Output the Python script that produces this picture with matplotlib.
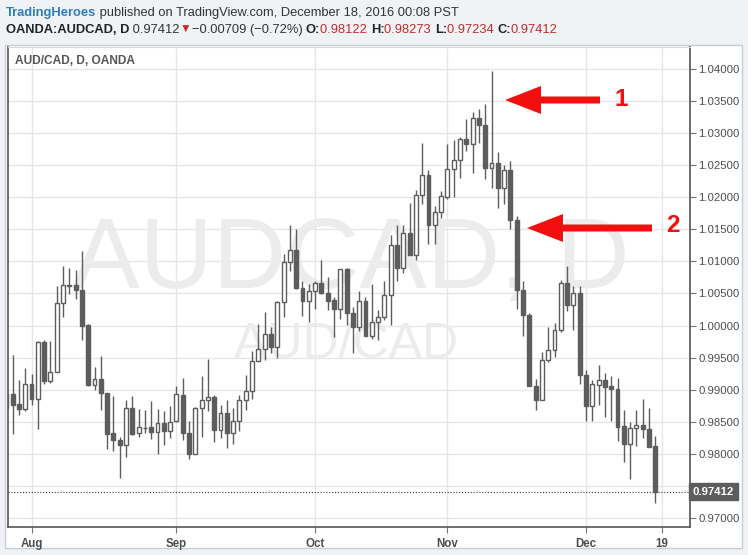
#%% AUD/CAD daily candles (TradingView style)
import pandas as pd
import matplotlib
matplotlib.use('Agg')
import matplotlib.pyplot as plt
from matplotlib.patches import Rectangle, FancyArrow

plt.rcParams['font.family'] = ['Liberation Sans', 'DejaVu Sans']

#%% data

dates = pd.bdate_range('2016-07-26', '2016-12-16')

opens = [0.98722, 0.98938, 0.98773, 0.98706, 0.99093, 0.98861, 0.99742, 0.99139, 0.99273, 1.00345,
         1.00639, 1.00629, 1.00562, 1.00010, 0.99077, 0.99170, 0.98953, 0.98319, 0.98221, 0.98134,
         0.98721, 0.98319, 0.98407, 0.98412, 0.98335, 0.98479, 0.98350, 0.98505, 0.98923, 0.98327,
         0.98000, 0.98716, 0.98840, 0.98881, 0.98373, 0.98638, 0.98327, 0.98513, 0.98840, 0.98975,
         0.99441, 0.99633, 0.99867, 0.99659, 1.00370, 1.00987, 1.01173, 1.00593, 1.00385, 1.00541,
         1.00662, 1.00502, 1.00395, 1.00254, 1.00879, 1.00197, 0.99975, 1.00383, 0.99836, 1.00053,
         1.00130, 1.00481, 1.01251, 1.00895, 1.01437, 1.01096, 1.02043, 1.02354, 1.01567, 1.01774,
         1.02007, 1.02447, 1.02587, 1.02913, 1.02830, 1.03234, 1.03130, 1.02458, 1.02535, 1.02147,
         1.02432, 1.01640, 1.00553, 1.00165, 0.99062, 0.98844, 0.99466, 0.99611, 0.99932, 1.00662,
         1.00320, 1.00506, 0.99225, 0.98749, 0.99080, 0.99158, 0.99054, 0.99003, 0.98433, 0.98148,
         0.98396, 0.98443, 0.98381, 0.98122]
highs = [0.98990, 0.99546, 0.99155, 0.99345, 0.99247, 0.99763, 0.99778, 0.99763, 1.00613, 1.00923,
         1.00897, 1.00871, 1.01155, 1.00021, 0.99356, 0.99526, 0.98953, 0.98907, 0.98258, 0.98835,
         0.98907, 0.98706, 0.98680, 0.98819, 0.98706, 0.98665, 0.98747, 0.99051, 0.99182, 0.98519,
         0.98736, 0.99218, 0.99483, 0.98918, 0.98767, 0.98840, 0.98716, 0.98918, 0.99234, 0.99597,
         1.00022, 1.00214, 0.99970, 1.00385, 1.01111, 1.01562, 1.01500, 1.00696, 1.00644, 1.00696,
         1.01019, 1.00750, 1.00447, 1.00879, 1.00905, 1.00285, 1.00543, 1.00450, 1.00647, 1.00244,
         1.00698, 1.01406, 1.01566, 1.01566, 1.01907, 1.02119, 1.02846, 1.02432, 1.01862, 1.02095,
         1.02830, 1.02897, 1.02934, 1.03224, 1.03337, 1.03379, 1.03451, 1.03969, 1.02701, 1.02510,
         1.02572, 1.01708, 1.00698, 1.00191, 0.99171, 0.99585, 0.99984, 1.00035, 1.00708, 1.00931,
         1.00620, 1.00620, 0.99313, 0.99158, 0.99381, 0.99262, 0.99210, 0.99189, 0.98681, 0.98500,
         0.98681, 0.98847, 0.98707, 0.98273]
lows = [0.98682, 0.98304, 0.98613, 0.98670, 0.98768, 0.98381, 0.99093, 0.99103, 0.99273, 1.00139,
        1.00485, 1.00417, 0.99778, 0.99057, 0.98990, 0.98685, 0.98072, 0.98041, 0.97618, 0.97948,
        0.98288, 0.98258, 0.98330, 0.98227, 0.97995, 0.98134, 0.98252, 0.98495, 0.98218, 0.97922,
        0.97990, 0.98270, 0.98674, 0.98181, 0.98249, 0.98093, 0.98156, 0.98363, 0.98684, 0.98856,
        0.99441, 0.99462, 0.99566, 0.99493, 1.00126, 1.00852, 1.00577, 1.00147, 1.00048, 1.00255,
        1.00492, 1.00244, 0.99815, 1.00104, 1.00001, 0.99572, 0.99913, 0.99836, 0.99795, 0.99779,
        1.00079, 1.00001, 1.00698, 1.00812, 1.01096, 1.01019, 1.01899, 1.01277, 1.01277, 1.01681,
        1.01966, 1.02002, 1.02302, 1.02727, 1.02380, 1.02846, 1.02282, 1.02147, 1.01836, 1.01889,
        1.01500, 1.00258, 0.99844, 0.99051, 0.98689, 0.98834, 0.99429, 0.99507, 0.99895, 1.00232,
        0.99937, 0.99093, 0.98516, 0.98516, 0.98759, 0.98578, 0.98516, 0.98205, 0.97878, 0.97604,
        0.98122, 0.98241, 0.98101, 0.97234]
closes = [0.98940, 0.98768, 0.98706, 0.99093, 0.98856, 0.99742, 0.99134, 0.99273, 1.00345, 1.00639,
          1.00624, 1.00557, 1.00000, 0.99067, 0.99170, 0.98948, 0.98314, 0.98221, 0.98134, 0.98721,
          0.98309, 0.98412, 0.98407, 0.98335, 0.98479, 0.98350, 0.98500, 0.98928, 0.98321, 0.98000,
          0.98716, 0.98840, 0.98881, 0.98373, 0.98638, 0.98321, 0.98513, 0.98840, 0.98975, 0.99441,
          0.99633, 0.99867, 0.99659, 1.00370, 1.00992, 1.01173, 1.00593, 1.00385, 1.00541, 1.00660,
          1.00502, 1.00388, 1.00254, 1.00879, 1.00192, 0.99975, 1.00383, 0.99836, 1.00053, 1.00141,
          1.00481, 1.01251, 1.00895, 1.01437, 1.01096, 1.02041, 1.02354, 1.01567, 1.01774, 1.02018,
          1.02447, 1.02587, 1.02913, 1.02830, 1.03234, 1.03130, 1.02458, 1.02535, 1.02147, 1.02432,
          1.01640, 1.00553, 1.00165, 0.99062, 0.98844, 0.99466, 0.99611, 0.99932, 1.00662, 1.00320,
          1.00506, 0.99222, 0.98749, 0.99086, 0.99158, 0.99044, 0.99003, 0.98422, 0.98148, 0.98396,
          0.98443, 0.98381, 0.98101, 0.97412]

last_price = 0.97412
price_ticks = [0.97 + 0.005 * i for i in range(15)]

#%% figure

W, H = 748, 555
fig = plt.figure(figsize=(W / 100, H / 100), dpi=100, facecolor='#f0f3f6')

# white chart panel
fig.patches.append(Rectangle((5 / W, (H - 548) / H), 737 / W, 503 / H, transform=fig.transFigure,
                             facecolor='white', edgecolor='#c9cdd2', lw=1, zorder=-5))

ax = fig.add_axes([8 / W, (H - 527) / H, 682 / W, 480 / H])
ax.set_zorder(2)
ax.set_facecolor('white')

x = list(range(len(dates)))
up_col, dn_col = 'white', '#5d5d5d'
edge = '#5d5d5d'

ax.vlines(x, lows, highs, color=edge, lw=1, zorder=3)
for i in x:
    o, c = opens[i], closes[i]
    ax.bar(i, abs(c - o), bottom=min(o, c), width=0.62,
           color=up_col if c >= o else dn_col, edgecolor=edge, lw=1, zorder=4)

# last price dotted line + box
ax.axhline(last_price, color='#333333', ls=(0, (1, 1.6)), lw=0.8, zorder=2)
ax.annotate('%.5f' % last_price, xy=(1.0, last_price), xycoords=('axes fraction', 'data'),
            xytext=(2, 0), textcoords='offset points', va='center', ha='left',
            fontsize=8.2, fontweight='bold', color='white', annotation_clip=False,
            bbox=dict(boxstyle='square,pad=0.3', fc='#5d5d5d', ec='#5d5d5d'), zorder=10)

# month ticks
first_of_month = [i for i in range(1, len(dates)) if dates[i].month != dates[i - 1].month]
xt = first_of_month + [len(dates)]
xl = [dates[i].strftime('%b') for i in first_of_month] + ['19']
ax.set_xticks(xt)
ax.set_xticklabels(xl, fontsize=8.3, fontweight='bold', color='#4d4d4d')
ax.set_xlim(0.27, 108.5)

ax.set_ylim(0.96859, 1.04343)
ax.yaxis.tick_right()
ax.set_yticks(price_ticks)
ax.set_yticklabels(['' if abs(p - 0.975) < 1e-9 else '%.5f' % p for p in price_ticks],
                   fontsize=8.2, color='#4d4d4d')
ax.tick_params(axis='y', length=4, color='#777777', pad=2)
ax.tick_params(axis='x', length=4, color='#777777', pad=4)

ax.grid(True, color='#e6e6e6', lw=1)
ax.set_axisbelow(True)
for s in ['left', 'bottom', 'right']:
    ax.spines[s].set_color('#555555')
    ax.spines[s].set_linewidth(1.2)
ax.spines['top'].set_color('#d8d8d8')

# watermark
ax.text(0.503, 0.498, 'AUDCAD, D', transform=ax.transAxes, ha='center', va='baseline',
        fontsize=73, color='#ececec', zorder=1)
ax.text(0.497, 0.352, 'AUD/CAD', transform=ax.transAxes, ha='center', va='baseline',
        fontsize=36, color='#ececec', zorder=1)
ax.text(0.0103, 0.965, 'AUD/CAD, D, OANDA', transform=ax.transAxes, ha='left', va='baseline',
        fontsize=8.6, fontweight='bold', color='#555555', zorder=6)

# red arrows
def px_to_data(px, py):
    return 0.27 + (px - 8) / 682 * (108.5 - 0.27), 1.04343 - (py - 47) / 480 * (1.04343 - 0.96859)

for tail, tip, lab, lab_xy in [((600, 100), (505, 100), '1', (614, 99)),
                               ((652, 228), (527, 228), '2', (666, 226))]:
    tx, ty = px_to_data(*tail)
    hx, hy = px_to_data(*tip)
    ax.add_patch(FancyArrow(tx, ty, hx - tx, 0, width=7 / 6414, head_width=28 / 6414,
                            head_length=36 / 682 * 108.2, length_includes_head=True,
                            color='#f20f0f', lw=0, zorder=8))
    lx, ly = px_to_data(*lab_xy)
    ax.text(lx, ly, lab, ha='left', va='center', fontsize=17.5, fontweight='bold',
            color='#f20f0f', zorder=8)

#%% header texts
r = fig.canvas.get_renderer()

def seg_line(px, py, parts):
    for txt, kw in parts:
        t = fig.text(px / W, 1 - py / H, txt, va='baseline', **kw)
        px += t.get_window_extent(renderer=r).width

dark = '#333333'
red = '#c42b2b'
fs = 9.3
seg_line(6, 16, [('TradingHeroes', dict(fontsize=fs, color='#2a7fba', fontweight='bold')),
                 (' published on TradingView.com, December 18, 2016 00:08 PST', dict(fontsize=fs, color=dark))])
seg_line(6, 33, [('OANDA:AUDCAD, D', dict(fontsize=fs, color='#222222', fontweight='bold')),
                 (' 0.97412', dict(fontsize=fs, color=dark)),
                 ('\u25bc', dict(fontsize=8.5, color=red)),
                 ('\u22120.00709 (\u22120.72%) ', dict(fontsize=fs, color=dark)),
                 ('O:', dict(fontsize=fs, color='#222222', fontweight='bold')),
                 ('0.98122 ', dict(fontsize=fs, color=red)),
                 ('H:', dict(fontsize=fs, color='#222222', fontweight='bold')),
                 ('0.98273 ', dict(fontsize=fs, color=red)),
                 ('L:', dict(fontsize=fs, color='#222222', fontweight='bold')),
                 ('0.97234 ', dict(fontsize=fs, color=red)),
                 ('C:', dict(fontsize=fs, color='#222222', fontweight='bold')),
                 ('0.97412', dict(fontsize=fs, color=red))])

plt.savefig('out.png', dpi=100, facecolor=fig.get_facecolor())
